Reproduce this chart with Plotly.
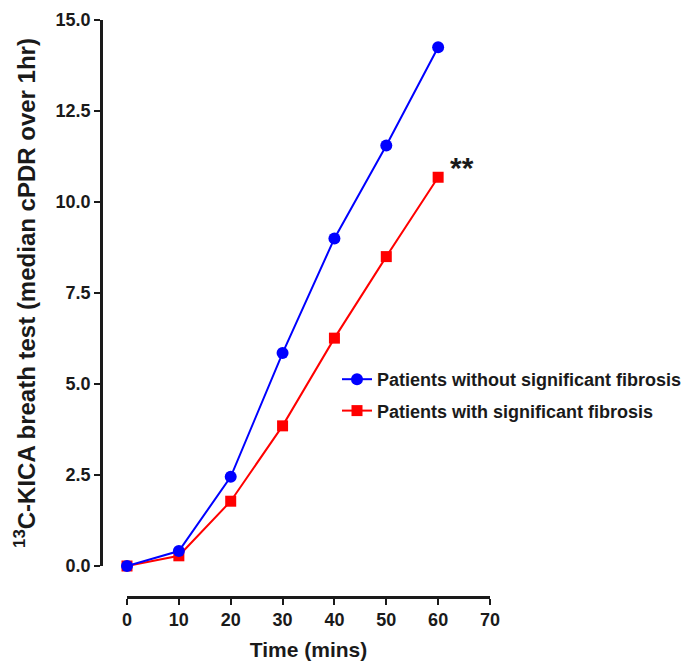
import plotly.graph_objects as go

time_mins = [0, 10, 20, 30, 40, 50, 60]
without_fibrosis = [0.0, 0.41, 2.45, 5.85, 9.0, 11.55, 14.25]
with_fibrosis = [0.0, 0.28, 1.78, 3.85, 6.26, 8.5, 10.68]
x_ticks = [0, 10, 20, 30, 40, 50, 60, 70]
y_ticks = [0, 2.5, 5.0, 7.5, 10.0, 12.5, 15.0]

FONT = "Liberation Sans, Arial, sans-serif"
INK = "#1a1a1a"

fig = go.Figure()
fig.add_trace(go.Scatter(
    x=time_mins, y=with_fibrosis, mode="lines+markers",
    name="Patients with significant fibrosis",
    line=dict(color="#ff0000", width=2),
    marker=dict(symbol="square", size=11, color="#ff0000"),
    cliponaxis=False, legendgroup="b", legendrank=2,
))
fig.add_trace(go.Scatter(
    x=time_mins, y=without_fibrosis, mode="lines+markers",
    name="Patients without significant fibrosis",
    line=dict(color="#0000ff", width=2),
    marker=dict(symbol="circle", size=12, color="#0000ff"),
    cliponaxis=False, legendgroup="a", legendrank=1,
))

fig.add_annotation(x=64.6, y=10.95, xref="x", yref="y", text="**",
                   showarrow=False, font=dict(family=FONT, size=30, color=INK, weight="bold"))

# figure coords = page coords - 8 (browser body margin)
L, T = 93, 12
R = 697 - 482
B = 664 - 589
W = 697 - L - R
H = 664 - T - B

fig.update_layout(
    width=697, height=664,
    margin=dict(l=L, r=R, t=T, b=B, pad=0),
    paper_bgcolor="white", plot_bgcolor="white",
    font=dict(family=FONT, color=INK),
    legend=dict(
        x=(329 - L) / W, y=(589 - 353) / H, xanchor="left", yanchor="top",
        font=dict(family=FONT, size=18, color=INK, weight="bold"),
        traceorder="grouped", tracegroupgap=5, bgcolor="rgba(0,0,0,0)",
    ),
    xaxis=dict(
        domain=[26 / W, 1], range=[0, 70], anchor="free", position=0,
        tickvals=x_ticks, ticks="outside", ticklen=6, tickwidth=2, tickcolor=INK,
        showline=True, linewidth=2.5, linecolor=INK, showgrid=False, zeroline=False,
        tickfont=dict(family=FONT, size=18, color=INK, weight="bold"),
        title=dict(text="Time (mins)", standoff=12,
                   font=dict(family=FONT, size=21, color=INK, weight="bold")),
        automargin=False,
    ),
    yaxis=dict(
        domain=[31 / H, 1], range=[0, 15], anchor="free", position=0,
        tickvals=y_ticks, tickformat=".1f", ticks="outside", ticklen=6, tickwidth=2, tickcolor=INK,
        showline=True, linewidth=2.5, linecolor=INK, showgrid=False, zeroline=False,
        tickfont=dict(family=FONT, size=18, color=INK, weight="bold"),
        title=dict(text="<sup>13</sup>C-KICA breath test (median cPDR over 1hr)", standoff=12,
                   font=dict(family=FONT, size=24, color=INK, weight="bold")),
        automargin=False,
    ),
)

fig.write_html("out.html")
